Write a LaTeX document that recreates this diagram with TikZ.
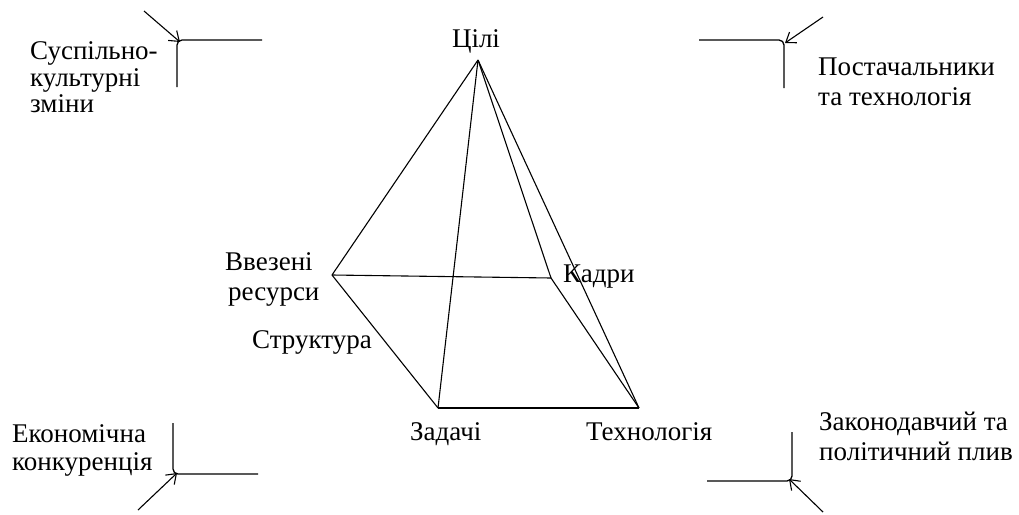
\documentclass[tikz,border=0pt]{standalone}
\usepackage{fontspec}
\setmainfont{Liberation Serif}
\usetikzlibrary{arrows.meta}
\begin{document}
\begin{tikzpicture}[x=1pt,y=-1pt,
  edge/.style={line width=1.1pt},
  bracket/.style={line width=1.3pt, rounded corners=5pt},
  infl/.style={line width=1.1pt, -{Straight Barb[length=9pt,width=13pt,line width=1.1pt]}},
  lbl/.style={font=\fontsize{27}{30}\selectfont, inner sep=0pt, anchor=base west}]
\useasboundingbox (0,0) rectangle (1019,514);
% pyramid vertices
\coordinate (apex) at (478,60);
\coordinate (res) at (332,275);
\coordinate (kadr) at (551,278);
\coordinate (zad) at (438,408);
\coordinate (tech) at (639,408);
\draw[edge] (apex) -- (res);
\draw[edge] (apex) -- (zad);
\draw[edge] (apex) -- (kadr);
\draw[edge] (apex) -- (tech);
\draw[edge] (res) -- (kadr);
\draw[edge] (res) -- (zad);
\draw[edge] (zad) -- (tech);
\draw[edge] (kadr) -- (tech);
% labels
\node[lbl, anchor=base] (cili) at (476,47) {Цілі};
\node[lbl] (vv1) at (225,270) {Ввезені};
\node[lbl] (vv2) at (228,300) {ресурси};
\node[lbl] (str) at (252,348) {Структура};
\node[lbl] (kd) at (563,282) {Кадри};
\node[lbl] (zd) at (410,440) {Задачі};
\node[lbl] (th) at (586,440) {Технологія};
\node[lbl] (s1) at (30,59) {Суспільно-};
\node[lbl] (s2) at (30,86) {культурні};
\node[lbl] (s3) at (30,112) {зміни};
\node[lbl] (p1) at (818,75) {Постачальники};
\node[lbl] (p2) at (818,105) {та технологія};
\node[lbl] (e1) at (12,442) {Економічна};
\node[lbl] (e2) at (12,470) {конкуренція};
\node[lbl] (z1) at (819,430) {Законодавчий та};
\node[lbl] (z2) at (819,460) {політичний плив};
% corner brackets
\coordinate (tlc) at (177,40);
\coordinate (trc) at (784,40);
\coordinate (blc) at (173,474);
\coordinate (brc) at (792,481);
\draw[bracket] (262,40) -- (tlc) -- (177,87);
\draw[bracket] (699,40) -- (trc) -- (784,88);
\draw[bracket] (173,423) -- (blc) -- (258,474);
\draw[bracket] (707,481) -- (brc) -- (792,432);
% influence arrows
\coordinate (a1) at (144,11);
\coordinate (a2) at (823,17);
\coordinate (a3) at (138,510);
\coordinate (a4) at (823,512);
\draw[infl] (a1) -- (180,42);
\draw[infl] (a2) -- (785,43);
\draw[infl] (a3) -- (177,473);
\draw[infl] (a4) -- (789,479);
\end{tikzpicture}
\end{document}
